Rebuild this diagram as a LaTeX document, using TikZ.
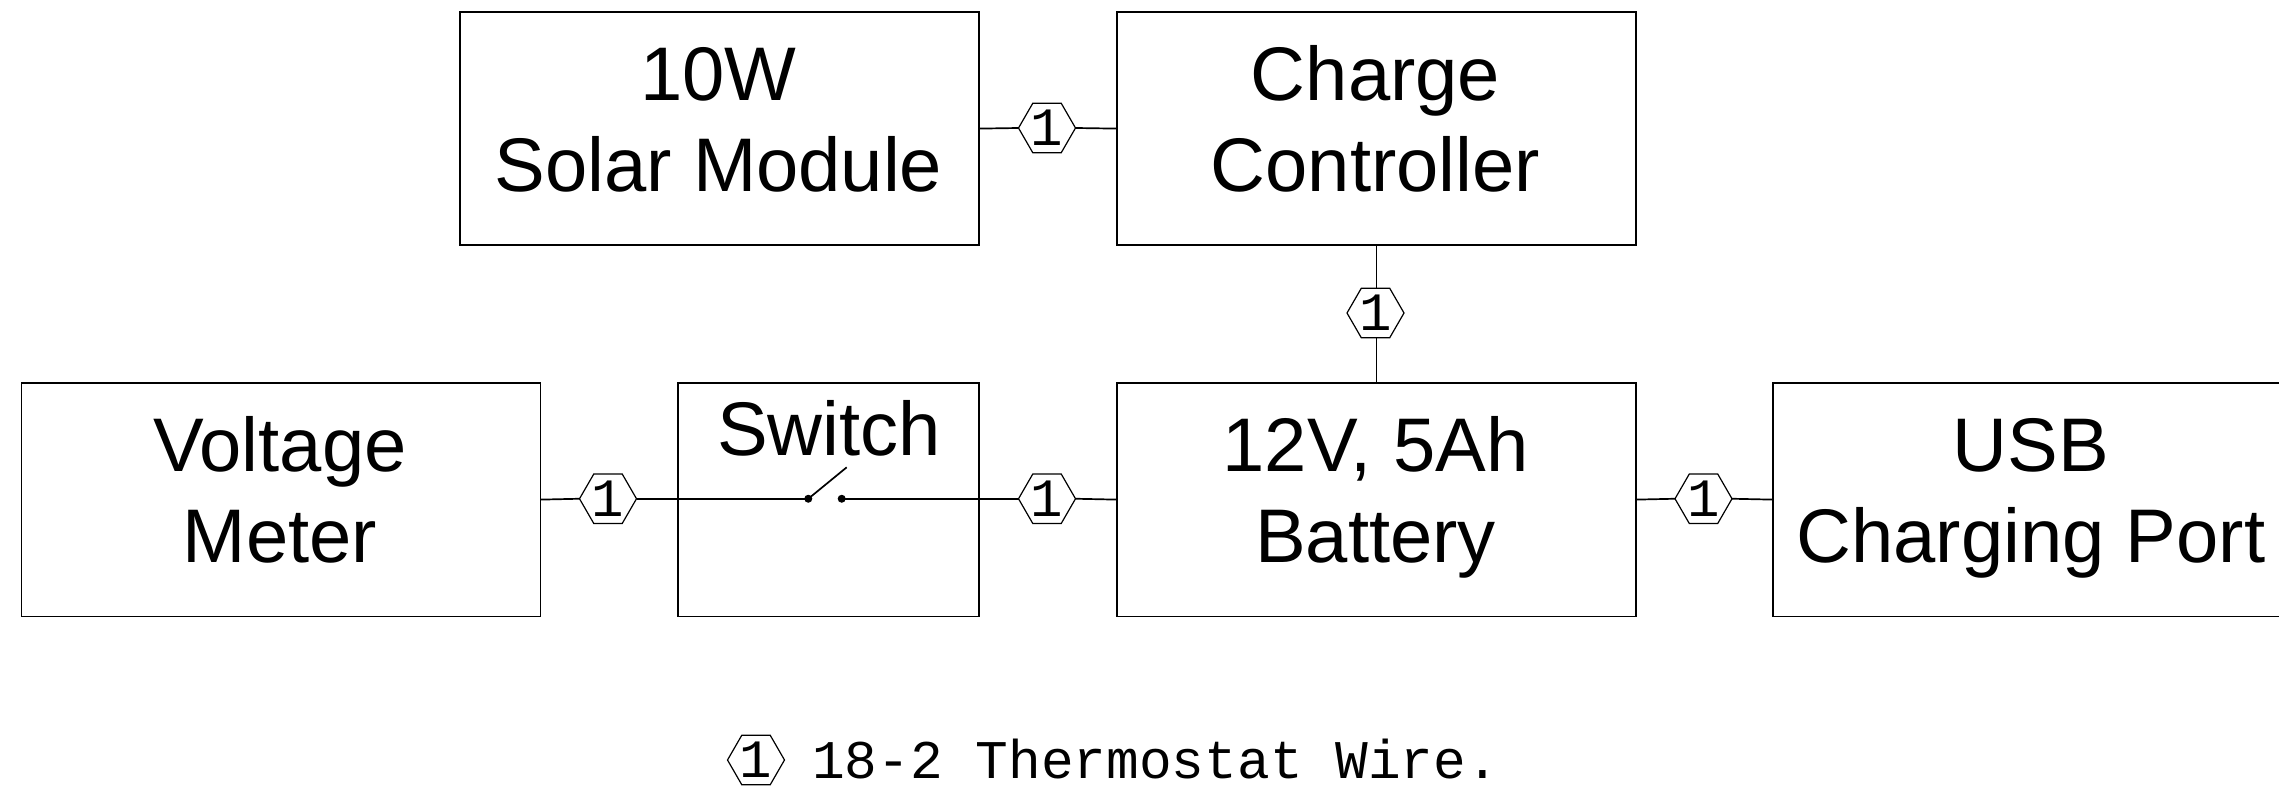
\documentclass[tikz,border=0pt]{standalone}
\usepackage{fontspec}
\setmainfont{Liberation Sans}
\newfontfamily\cadfont{Liberation Mono}
\usetikzlibrary{shapes.geometric,calc}
\begin{document}
\begin{tikzpicture}[x=1pt,y=-1pt,
  blk/.style={draw=black, line width=1.7pt, minimum height=233.5pt, inner sep=0pt, anchor=north west},
  lbl/.style={anchor=base, inner sep=0pt, font=\fontsize{76}{91}\selectfont},
  hexa/.style={regular polygon, regular polygon sides=6, minimum size=57pt, inner sep=0pt, outer sep=0pt, draw=black, line width=1.2pt,
    label={[font=\cadfont\fontsize{54}{54}\selectfont, inner sep=0pt]center:1}},
  wire/.style={draw=black, line width=1.7pt},
  legend/.style={anchor=base west, inner sep=0pt, font=\cadfont\fontsize{54.5}{55}\selectfont}]
\useasboundingbox (0,0) rectangle (2279,791);
% blocks
\node[blk, minimum width=519pt] (solar) at (459,11) {};
\node[blk, minimum width=519pt] (charge) at (1116,11) {};
\node[blk, minimum width=519pt] (volt) at (20.5,382) {};
\node[blk, minimum width=301pt] (sw) at (677,382) {};
\node[blk, minimum width=519pt] (batt) at (1116,382) {};
\node[blk, minimum width=519pt] (usb) at (1772,382) {};
% labels
\node[lbl] (t1a) at (718.5,100.5) {10W};
\node[lbl] (t1b) at (718.5,191.5) {Solar Module};
\node[lbl] (t2a) at (1375.5,100.5) {Charge};
\node[lbl] (t2b) at (1375.5,191.5) {Controller};
\node[lbl] (t3a) at (280,471.5) {Voltage};
\node[lbl] (t3b) at (280,562.5) {Meter};
\node[lbl] (t4a) at (829,455) {Switch};
\node[lbl] (t5a) at (1375.5,471.5) {12V, 5Ah};
\node[lbl] (t5b) at (1375.5,562.5) {Battery};
\node[lbl] (t6a) at (2031,471.5) {USB};
\node[lbl] (t6b) at (2031,562.5) {Charging Port};
% hex markers
\node[hexa] (h1) at (1047,128) {};
\node[hexa] (h2) at (1375.5,313) {};
\node[hexa] (h3) at (608,498.75) {};
\node[hexa] (h4) at (1047,498.75) {};
\node[hexa] (h5) at (1703.5,498.75) {};
% switch contacts
\coordinate (swl) at (808.3,498.75);
\coordinate (swr) at (841.7,498.75);
\coordinate (lev) at (846.7,467.3);
\fill (swl) circle (4pt);
\fill (swr) circle (4pt);
% wires
\path[wire] (solar.east) -- (h1.west);
\path[wire] (h1.east) -- (charge.west);
\path[wire] (charge.south) -- (charge.south |- h2.north);
\path[wire] (batt.north |- h2.south) -- (batt.north);
\path[wire] (volt.east) -- (h3.west);
\path[wire] (h3.east) -- (swl);
\path[wire] (swl) -- (lev);
\path[wire] (swr) -- (h4.west);
\path[wire] (h4.east) -- (batt.west);
\path[wire] (batt.east) -- (h5.west);
\path[wire] (h5.east) -- (usb.west);
% legend
\node[hexa] (hl) at (756,760) {};
\node[legend] (lt) at (812,778) {18-2 Thermostat Wire.};
\end{tikzpicture}
\end{document}
